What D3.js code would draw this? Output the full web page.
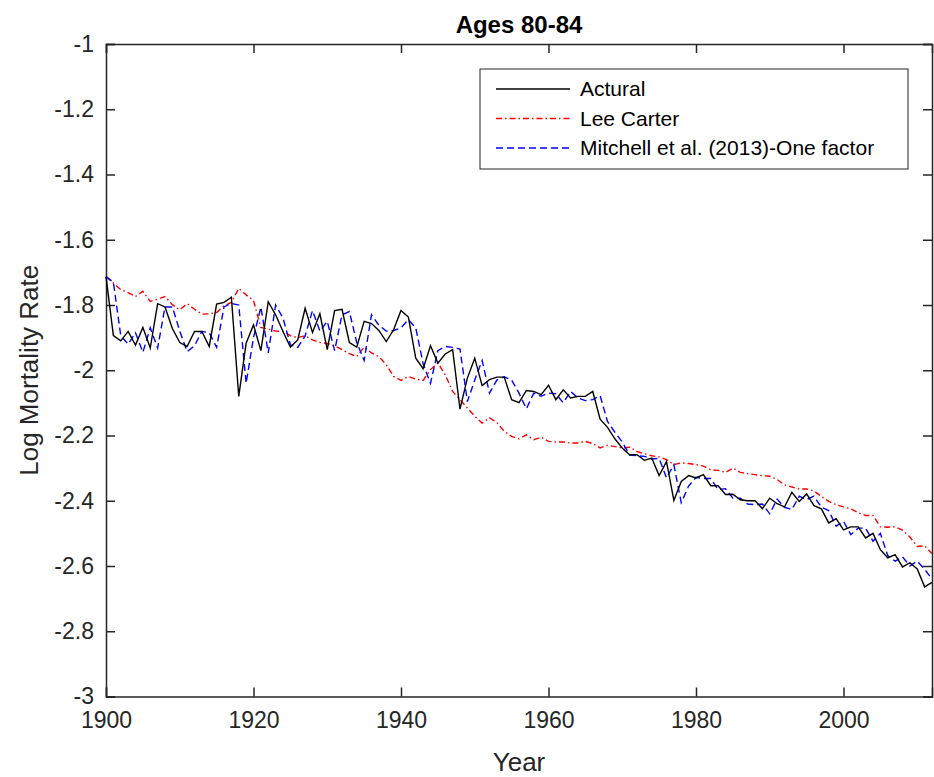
<!DOCTYPE html>
<html>
<head>
<meta charset="utf-8">
<script src="https://cdn.jsdelivr.net/npm/d3@7"></script>
<style>
  body { margin: 0; background: #fff; }
  svg { font-family: "Liberation Sans", Arial, sans-serif; }
</style>
</head>
<body>
<script>
const width = 934;
const height = 777;
const margin = {top: 44, right: 1, bottom: 80, left: 106};

const title = "Ages 80-84";
const seriesNames = ["Actural", "Lee Carter", "Mitchell et al. (2013)-One factor"];
const xTicks = [1900, 1920, 1940, 1960, 1980, 2000];
const yTicks = [-1, -1.2, -1.4, -1.6, -1.8, -2, -2.2, -2.4, -2.6, -2.8, -3];

const years = d3.range(1900, 2013);

const actual = [
  -1.713, -1.894, -1.910, -1.881, -1.923, -1.869, -1.932, -1.796, -1.806, -1.872,
  -1.915, -1.927, -1.881, -1.881, -1.927, -1.797, -1.792, -1.776, -2.080, -1.917,
  -1.861, -1.940, -1.790, -1.830, -1.881, -1.929, -1.907, -1.810, -1.884, -1.827,
  -1.937, -1.817, -1.813, -1.915, -1.929, -1.850, -1.857, -1.878, -1.912, -1.876,
  -1.817, -1.837, -1.963, -1.995, -1.925, -1.978, -1.950, -1.937, -2.119, -2.024,
  -1.963, -2.047, -2.029, -2.021, -2.021, -2.090, -2.099, -2.062, -2.065, -2.075,
  -2.046, -2.090, -2.060, -2.085, -2.080, -2.080, -2.065, -2.150, -2.175, -2.210,
  -2.238, -2.259, -2.259, -2.276, -2.269, -2.323, -2.280, -2.399, -2.341, -2.323,
  -2.330, -2.320, -2.354, -2.354, -2.381, -2.380, -2.397, -2.400, -2.400, -2.424,
  -2.392, -2.409, -2.419, -2.374, -2.402, -2.379, -2.415, -2.425, -2.468, -2.455,
  -2.489, -2.480, -2.480, -2.514, -2.500, -2.550, -2.575, -2.565, -2.603, -2.590,
  -2.609, -2.664, -2.650
];

const leeCarter = [
  -1.713, -1.733, -1.753, -1.762, -1.774, -1.758, -1.789, -1.782, -1.774, -1.799,
  -1.815, -1.796, -1.813, -1.828, -1.827, -1.823, -1.802, -1.792, -1.749, -1.769,
  -1.786, -1.869, -1.874, -1.880, -1.881, -1.894, -1.900, -1.894, -1.907, -1.915,
  -1.918, -1.925, -1.937, -1.949, -1.958, -1.929, -1.947, -1.958, -1.983, -2.019,
  -2.031, -2.019, -2.027, -2.031, -1.998, -1.978, -2.014, -2.065, -2.090, -2.116,
  -2.141, -2.162, -2.146, -2.160, -2.187, -2.203, -2.210, -2.198, -2.213, -2.205,
  -2.218, -2.220, -2.220, -2.223, -2.223, -2.218, -2.225, -2.238, -2.230, -2.234,
  -2.238, -2.236, -2.249, -2.256, -2.262, -2.266, -2.274, -2.289, -2.284, -2.286,
  -2.289, -2.294, -2.305, -2.307, -2.313, -2.300, -2.313, -2.317, -2.320, -2.323,
  -2.325, -2.335, -2.351, -2.358, -2.364, -2.364, -2.370, -2.387, -2.402, -2.412,
  -2.419, -2.425, -2.437, -2.445, -2.445, -2.480, -2.481, -2.480, -2.490, -2.511,
  -2.540, -2.538, -2.562
];

const mitchell = [
  -1.713, -1.730, -1.894, -1.920, -1.885, -1.945, -1.870, -1.932, -1.806, -1.806,
  -1.880, -1.943, -1.925, -1.881, -1.885, -1.930, -1.806, -1.795, -1.800, -2.040,
  -1.900, -1.806, -1.947, -1.800, -1.840, -1.922, -1.930, -1.895, -1.817, -1.880,
  -1.850, -1.940, -1.830, -1.820, -1.915, -1.970, -1.830, -1.862, -1.880, -1.878,
  -1.870, -1.845, -1.870, -1.980, -2.040, -1.940, -1.927, -1.930, -1.935, -2.096,
  -2.030, -1.970, -2.070, -2.030, -2.020, -2.030, -2.070, -2.118, -2.070, -2.080,
  -2.070, -2.072, -2.100, -2.065, -2.085, -2.093, -2.090, -2.078, -2.157, -2.190,
  -2.220, -2.260, -2.262, -2.264, -2.272, -2.270, -2.330, -2.290, -2.406, -2.355,
  -2.328, -2.332, -2.332, -2.366, -2.363, -2.392, -2.392, -2.410, -2.412, -2.410,
  -2.440, -2.395, -2.420, -2.427, -2.386, -2.396, -2.386, -2.420, -2.430, -2.478,
  -2.463, -2.504, -2.484, -2.484, -2.524, -2.500, -2.568, -2.585, -2.572, -2.600,
  -2.585, -2.610, -2.640
];

const svg = d3.select("body").append("svg")
    .attr("width", width)
    .attr("height", height);

const x = d3.scaleLinear()
    .domain([1900, 2012])
    .range([margin.left, width - margin.right - 1]);
const y = d3.scaleLinear()
    .domain([-3, -1])
    .range([height - margin.bottom - 0.5, margin.top]);

const axisColor = "#262626";
const tickLen = 9;
const fmt = v => String(v);

// axes, ticks pointing inward like matlab
const xAxis = svg.append("g")
    .attr("transform", "translate(0," + y(-3) + ")")
    .call(d3.axisBottom(x).tickValues(xTicks).tickFormat(fmt).tickSize(-tickLen).tickPadding(15));
const yAxis = svg.append("g")
    .attr("transform", "translate(" + x(1900) + ",0)")
    .call(d3.axisLeft(y).tickValues(yTicks).tickFormat(fmt).tickSize(-tickLen).tickPadding(12));
const xTop = svg.append("g")
    .attr("transform", "translate(0," + y(-1) + ")")
    .call(d3.axisTop(x).tickValues(xTicks).tickFormat("").tickSize(-tickLen));
const yRight = svg.append("g")
    .attr("transform", "translate(" + x(2012) + ",0)")
    .call(d3.axisRight(y).tickValues(yTicks).tickFormat("").tickSize(-tickLen));

[xAxis, yAxis, xTop, yRight].forEach(g => {
  g.select(".domain").attr("stroke", axisColor).attr("stroke-width", 1.5);
  g.selectAll(".tick line").attr("stroke", axisColor).attr("stroke-width", 1.5);
  g.selectAll(".tick text")
      .attr("fill", axisColor)
      .style("font-size", "23px")
      .style("font-family", "'Liberation Sans', Arial, sans-serif");
});

// series lines
const line = d3.line()
    .x((d, i) => x(years[i]))
    .y(d => y(d));

const series = [
  {name: seriesNames[0], values: actual, color: "#000000", dash: null},
  {name: seriesNames[1], values: leeCarter, color: "#ff0000", dash: "6,3,1.5,3"},
  {name: seriesNames[2], values: mitchell, color: "#0000ff", dash: "7,4"}
];

svg.append("g").selectAll("path")
  .data([series[1], series[2], series[0]])
  .join("path")
    .attr("d", d => line(d.values))
    .attr("fill", "none")
    .attr("stroke", d => d.color)
    .attr("stroke-width", 1.4)
    .attr("stroke-dasharray", d => d.dash);

// title + axis labels
svg.append("text")
    .attr("x", (x(1900) + x(2012)) / 2)
    .attr("y", 33)
    .attr("text-anchor", "middle")
    .style("font-size", "24px")
    .style("font-weight", "bold")
    .text(title);

svg.append("text")
    .attr("x", (x(1900) + x(2012)) / 2)
    .attr("y", 771)
    .attr("text-anchor", "middle")
    .attr("fill", axisColor)
    .style("font-size", "26px")
    .text("Year");

svg.append("text")
    .attr("transform", "translate(38," + (y(-1) + y(-3)) / 2 + ") rotate(-90)")
    .attr("text-anchor", "middle")
    .attr("fill", axisColor)
    .style("font-size", "26px")
    .text("Log Mortality Rate");

// legend
const legend = svg.append("g").attr("transform", "translate(480,69)");
legend.append("rect")
    .attr("width", 428)
    .attr("height", 100)
    .attr("fill", "#fff")
    .attr("stroke", axisColor)
    .attr("stroke-width", 1);

const rows = legend.selectAll("g.row")
  .data(series)
  .join("g")
    .attr("class", "row")
    .attr("transform", (d, i) => "translate(0," + (20 + i * 29.5) + ")");
rows.append("line")
    .attr("x1", 16).attr("x2", 90)
    .attr("stroke", d => d.color)
    .attr("stroke-width", 1.4)
    .attr("stroke-dasharray", d => d.dash);
rows.append("text")
    .attr("x", 100)
    .attr("dy", "0.35em")
    .style("font-size", "21px")
    .text(d => d.name);
</script>
</body>
</html>
